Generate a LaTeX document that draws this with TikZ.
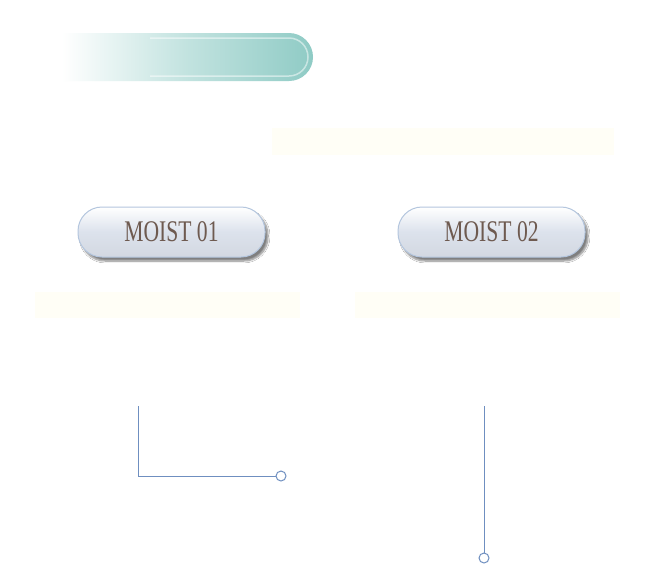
\documentclass[tikz,border=0pt]{standalone}
\usepackage{fontspec}
\setmainfont{Liberation Serif}
\usetikzlibrary{shadows.blur}
\definecolor{teal1}{HTML}{8FCBC5}
\definecolor{pillc}{HTML}{DCE2EC}
\definecolor{pilledge}{HTML}{B4C6DE}
\definecolor{txt}{HTML}{6E5A50}
\definecolor{linec}{HTML}{6F8FC0}
\definecolor{faint}{HTML}{FFFEF6}
\tikzset{
 pill/.style={rounded corners=24pt,draw=pilledge,line width=1pt,top color=white,bottom color=pillc!90!gray,middle color=pillc,
   blur shadow={shadow xshift=3pt,shadow yshift=-4pt,shadow blur steps=8,shadow opacity=50},minimum width=187pt,minimum height=50pt,text=txt,font=\fontsize{30}{30}\selectfont},
 conn/.style={draw=linec,line width=0.8pt},
 dot/.style={circle,draw=linec,line width=1pt,fill=white,inner sep=0pt,minimum size=10pt},
 faintbox/.style={fill=faint,draw=none}
}
\begin{document}
\begin{tikzpicture}[x=1pt,y=-1pt]
\useasboundingbox (0,0) rectangle (663,566);
\fill[white] (0,0) rectangle (663,566);
% banner
\shade[left color=white,right color=teal1,middle color=teal1!55!white] (62,33) -- (289,33) arc[start angle=90,end angle=-90,radius=24pt] -- (62,81) -- cycle;
\draw[white,opacity=0.5,line width=1.5pt] (150,38) -- (289,38) arc[start angle=90,end angle=-90,radius=19pt] -- (150,76);
\fill[faintbox] (272,128) rectangle (614,155);
\fill[faintbox] (35,292) rectangle (300,318);
\fill[faintbox] (355,292) rectangle (620,318);
\node[pill] (m1) at (171.5,232) {\scalebox{0.72}[1]{MOIST 01}};
\node[pill] (m2) at (491.5,232) {\scalebox{0.72}[1]{MOIST 02}};
\coordinate (a1) at (138,406);
\node[dot] (d1) at (281,476) {};
\coordinate (a2) at (484,406);
\node[dot] (d2) at (484,558) {};
\draw[conn] (a1) |- (d1.west);
\draw[conn] (a2) -- (d2.north);
\end{tikzpicture}
\end{document}
